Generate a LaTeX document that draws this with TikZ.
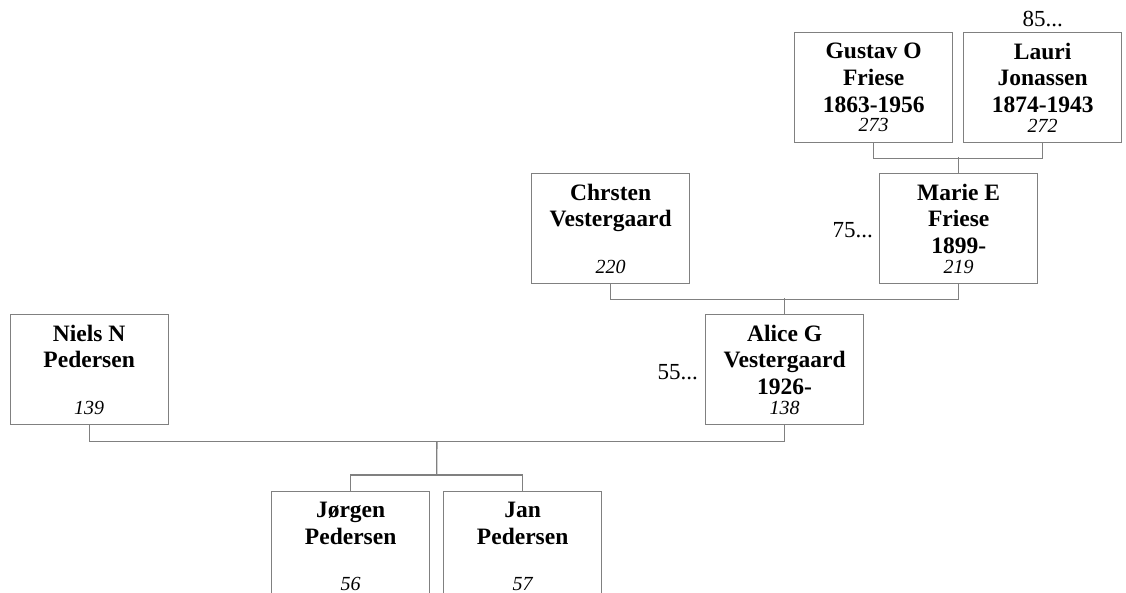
\documentclass[tikz,border=0pt]{standalone}
\usepackage{fontspec}
\setmainfont{Liberation Serif}
\usetikzlibrary{calc}
\definecolor{linegray}{RGB}{128,128,128}
\newcommand{\pnum}[1]{{\fontsize{20}{21}\selectfont\mdseries\itshape #1}}
\tikzset{
  person/.style={draw=linegray, line width=1.3pt, minimum width=158pt, minimum height=110pt,
    inner sep=0pt, align=center, anchor=north west,
    font=\fontsize{23.5}{26.7}\selectfont\bfseries},
  conn/.style={draw=linegray, line width=1.3pt},
  more/.style={inner sep=0pt, font=\fontsize{23}{26}\selectfont}
}
\begin{document}
\begin{tikzpicture}[x=1pt,y=-1pt]
\useasboundingbox (0,0) rectangle (1126,593);
\clip (0,0) rectangle (1126,593);
\node[person] (g) at (794,32) {Gustav O\\Friese\\1863-1956\\[-6.8pt]\pnum{273}};
\node[person] (l) at (963,32) {Lauri\\Jonassen\\1874-1943\\[-6.8pt]\pnum{272}};
\node[person] (m) at (879,173) {Marie E\\Friese\\1899-\\[-6.8pt]\pnum{219}};
\node[person] (c) at (531,173) {Chrsten\\Vestergaard\\\mbox{}\\[-6.8pt]\pnum{220}};
\node[person] (a) at (705,314) {Alice G\\Vestergaard\\1926-\\[-6.8pt]\pnum{138}};
\node[person] (n) at (9.5,314) {Niels N\\Pedersen\\\mbox{}\\[-6.8pt]\pnum{139}};
\node[person] (jo) at (271,491) {Jørgen\\Pedersen\\\mbox{}\\[-6.8pt]\pnum{56}};
\node[person] (ja) at (443,491) {Jan\\Pedersen\\\mbox{}\\[-6.8pt]\pnum{57}};
\node[more, anchor=base] (t85) at ($(l.north)+(0,-5)$) {85...};
\node[more, anchor=base east] (t75) at ($(m.north west)+(-6,65)$) {75...};
\node[more, anchor=base east] (t55) at ($(a.north west)+(-7,65)$) {55...};
% couples and their children
\draw[conn] (g.south) -- ++(0,15.5) -| (l.south);
\draw[conn] (m.north) -- ++(0,-15.5);
\draw[conn] (c.south) -- ++(0,15.5) -| (m.south);
\draw[conn] (a.north) -- ++(0,-15.5);
\draw[conn] (n.south) -- ++(0,16) -| (a.south);
\draw[conn] (jo.north) -- ++(0,-16) -| (ja.north);
\coordinate (cm) at ($(n.south)!0.5!(a.south)+(0,16)$);
\coordinate (sm) at ($(jo.north)!0.5!(ja.north)+(0,-16)$);
\draw[conn] (cm) -- (sm);
\end{tikzpicture}
\end{document}
